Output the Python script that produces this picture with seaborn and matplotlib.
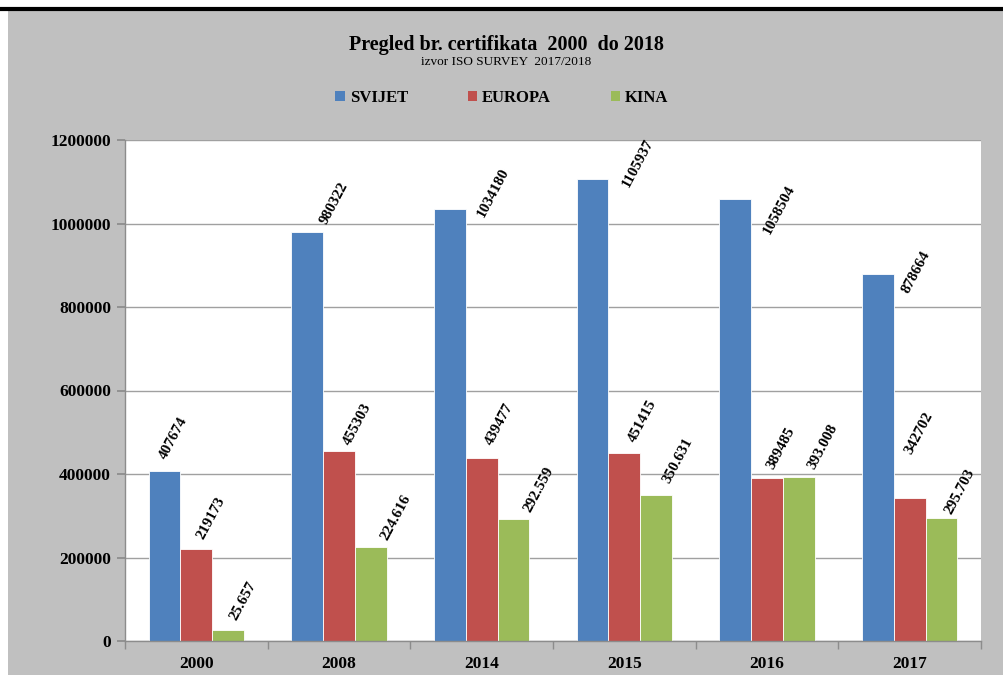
import pandas as pd
import numpy as np
import seaborn as sns
import matplotlib.pyplot as plt
from matplotlib.patches import Patch, Rectangle
from matplotlib.lines import Line2D

# data
years = ["2000", "2008", "2014", "2015", "2016", "2017"]
series = ["SVIJET", "EUROPA", "KINA"]
svijet = [407674, 980322, 1034180, 1105937, 1058504, 878664]
europa = [219173, 455303, 439477, 451415, 389485, 342702]
kina = [25657, 224616, 292559, 350631, 393008, 295703]
svijet_lbl = ["407674", "980322", "1034180", "1105937", "1058504", "878664"]
europa_lbl = ["219173", "455303", "439477", "451415", "389485", "342702"]
kina_lbl = ["25.657", "224.616", "292.559", "350.631", "393.008", "295.703"]

colors = ["#4F81BD", "#C0504D", "#9BBB59"]

# label nudges in pixels (right, up), like excel placed them
nudges = [
    [(4, 9), (22, 5), (37, -10), (39, -10), (37, -37), (33, -21)],
    [(10, 8), (13, 4), (13, 10), (13, 8), (9, 7), (4, 42)],
    [(11, 8), (19, 5), (19, 4), (16, 9), (18, 6), (12, 1)],
]

df = pd.DataFrame({
    "godina": years * 3,
    "serija": [s for s in series for _ in years],
    "broj": svijet + europa + kina,
})

sns.set_theme(style="white")
plt.rcParams["font.family"] = ["Liberation Serif", "DejaVu Serif"]
plt.rcParams["font.weight"] = "bold"
plt.rcParams["text.color"] = "black"
plt.rcParams["xtick.color"] = "black"
plt.rcParams["ytick.color"] = "black"

fig = plt.figure(figsize=(10.04, 6.75), dpi=100)
fig.patch.set_facecolor("white")
fig.add_artist(Rectangle((8 / 1004, 0), 1, 1 - 9 / 675, transform=fig.transFigure,
                         facecolor="#C0C0C0", edgecolor="none", zorder=0))
fig.add_artist(Line2D([0, 1], [1 - 8.5 / 675, 1 - 8.5 / 675], transform=fig.transFigure,
                      color="black", lw=3, zorder=1))

ax = fig.add_axes([125 / 1004, 34 / 675, 856 / 1004, 501 / 675])
ax.set_facecolor("white")

sns.barplot(data=df, x="godina", y="broj", hue="serija", palette=colors,
            width=0.67, saturation=1, edgecolor="white", linewidth=0.6,
            legend=False, ax=ax)

labels = [svijet_lbl, europa_lbl, kina_lbl]
for k, cont in enumerate(ax.containers):
    for i, bar in enumerate(cont):
        cx = bar.get_x() + bar.get_width() / 2
        h = bar.get_height()
        dx, dy = nudges[k][i]
        ax.annotate(labels[k][i], xy=(cx, h), xytext=(dx * 0.72, dy * 0.72),
                    textcoords="offset points", rotation=62, rotation_mode="anchor",
                    ha="left", va="bottom", fontsize=11, fontweight="bold",
                    color="black", annotation_clip=False)

ax.set_ylim(0, 1200000)
ax.set_xlim(-0.5, 5.5)
ax.set_yticks(np.arange(0, 1200001, 200000))
ax.set_yticklabels([str(v) for v in range(0, 1200001, 200000)])
ax.yaxis.grid(True, color="#A0A0A0", lw=1)
ax.set_axisbelow(True)
ax.set_xlabel("")
ax.set_ylabel("")

for s in ["top", "right"]:
    ax.spines[s].set_visible(False)
for s in ["left", "bottom"]:
    ax.spines[s].set_color("#8C8C8C")
    ax.spines[s].set_linewidth(1)

ax.tick_params(axis="y", which="major", left=True, length=6, color="#8C8C8C",
               labelcolor="black", labelsize=12.5, pad=4)
ax.tick_params(axis="x", which="major", bottom=False, labelcolor="black",
               labelsize=12.5, pad=5)
ax.set_xticks(np.arange(-0.5, 6, 1), minor=True)
ax.tick_params(axis="x", which="minor", bottom=True, length=6, color="#8C8C8C")
for t in ax.get_xticklabels() + ax.get_yticklabels():
    t.set_fontweight("bold")

fig.text(0.504, 1 - 45 / 675, "Pregled br. certifikata  2000  do 2018", ha="center",
         va="center", fontsize=14.5, fontweight="bold", color="black")
fig.text(0.504, 1 - 62 / 675, "izvor ISO SURVEY  2017/2018", ha="center",
         va="center", fontsize=9.5, fontweight="normal", color="black")

handles = [Patch(facecolor=c, edgecolor="none") for c in colors]
fig.legend(handles, series, loc="center", bbox_to_anchor=(0.5, 1 - 98 / 675), ncol=3,
           frameon=False, handlelength=0.55, handleheight=0.55, labelcolor="black",
           handletextpad=0.3, columnspacing=3.6, prop={"weight": "bold", "size": 12})

fig.savefig("out.png", dpi=100)
